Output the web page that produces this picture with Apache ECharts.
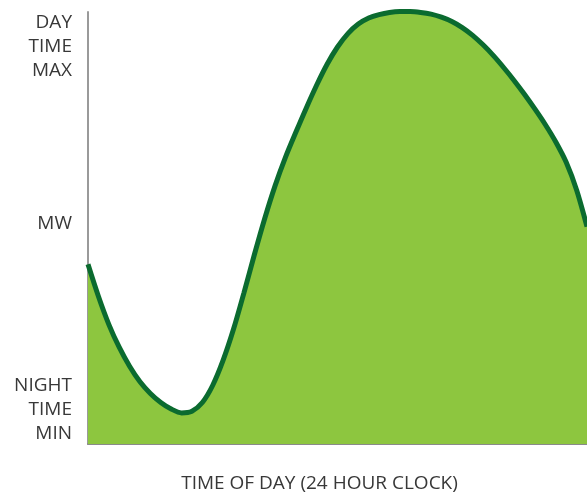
<!DOCTYPE html>
<html>
<head>
<meta charset="utf-8">
<script src="https://cdn.jsdelivr.net/npm/echarts@6/dist/echarts.min.js"></script>
<style>
  html, body { margin: 0; padding: 0; background: #fff; }
  #chart { width: 587px; height: 498px; }
</style>
</head>
<body>
<div id="chart"></div>
<script>
// load read every half hour (0 = night min axis, 100 = day max axis)
const hours = [0, 0.5, 1, 1.5, 2, 2.5, 3, 3.5, 4, 4.5, 5, 5.5, 6, 6.5, 7, 7.5, 8, 8.5, 9, 9.5, 10, 10.5, 11, 11.5,
  12, 12.5, 13, 13.5, 14, 14.5, 15, 15.5, 16, 16.5, 17, 17.5, 18, 18.5, 19, 19.5, 20, 20.5, 21, 21.5, 22, 22.5, 23, 23.5, 24]
const load = [41.6, 34.2, 27.7, 22.4, 18.0, 14.4, 11.7, 9.6, 8.1, 7.2, 7.6, 9.6, 13.6, 19.4, 26.6, 35.0, 43.8, 52.2, 59.8, 66.4, 72.2, 77.8, 83.1, 87.9,
  91.9, 95.0, 97.2, 98.6, 99.4, 99.9, 100.1, 100.1, 99.9, 99.5, 98.8, 97.8, 96.4, 94.6, 92.4, 89.9, 87.1, 84.1, 80.9, 77.5, 73.9, 69.9, 65.2, 58.8, 50.3]
// y axis text labels at axis values
const yLabelValues = [8, 51, 92]
const yLabelTexts = ['NIGHT\nTIME\nMIN', 'MW', 'DAY\nTIME\nMAX']
const xTitle = 'TIME OF DAY (24 HOUR CLOCK)'

const chart = echarts.init(document.getElementById('chart'))

const font = '"Open Sans", "Noto Sans", sans-serif'

const option = {
  animation: false,
  grid: { left: 88, right: 0, top: 12, bottom: 53 },
  xAxis: {
    type: 'value',
    min: 0,
    max: 24,
    name: xTitle,
    nameLocation: 'middle',
    nameGap: 30,
    nameTextStyle: {
      fontFamily: font,
      fontSize: 19,
      color: '#383838',
      padding: [0, 36, 0, 0]
    },
    axisLine: { show: true, lineStyle: { color: '#8a8a8a', width: 2 } },
    axisTick: { show: false },
    axisLabel: { show: false },
    splitLine: { show: false }
  },
  yAxis: {
    type: 'value',
    min: 0,
    max: 100,
    interval: 1,
    axisLine: { show: true, lineStyle: { color: '#9a9a9a', width: 2 } },
    axisTick: { show: false },
    splitLine: { show: false },
    axisLabel: {
      interval: 0,
      margin: 16,
      fontFamily: font,
      fontSize: 19,
      lineHeight: 24,
      color: '#383838',
      align: 'right',
      formatter: function (v) {
        const i = yLabelValues.indexOf(Math.round(v))
        return i >= 0 && Math.abs(v - yLabelValues[i]) < 0.01 ? yLabelTexts[i] : ''
      }
    }
  },
  series: [
    {
      type: 'line',
      data: hours.map((h, i) => [h, load[i]]),
      smooth: 0.3,
      clip: false,
      showSymbol: false,
      symbol: 'none',
      lineStyle: { color: '#0b6b2f', width: 5 },
      areaStyle: { color: '#8dc63f', opacity: 1 }
    }
  ]
}

chart.setOption(option)
</script>
</body>
</html>
